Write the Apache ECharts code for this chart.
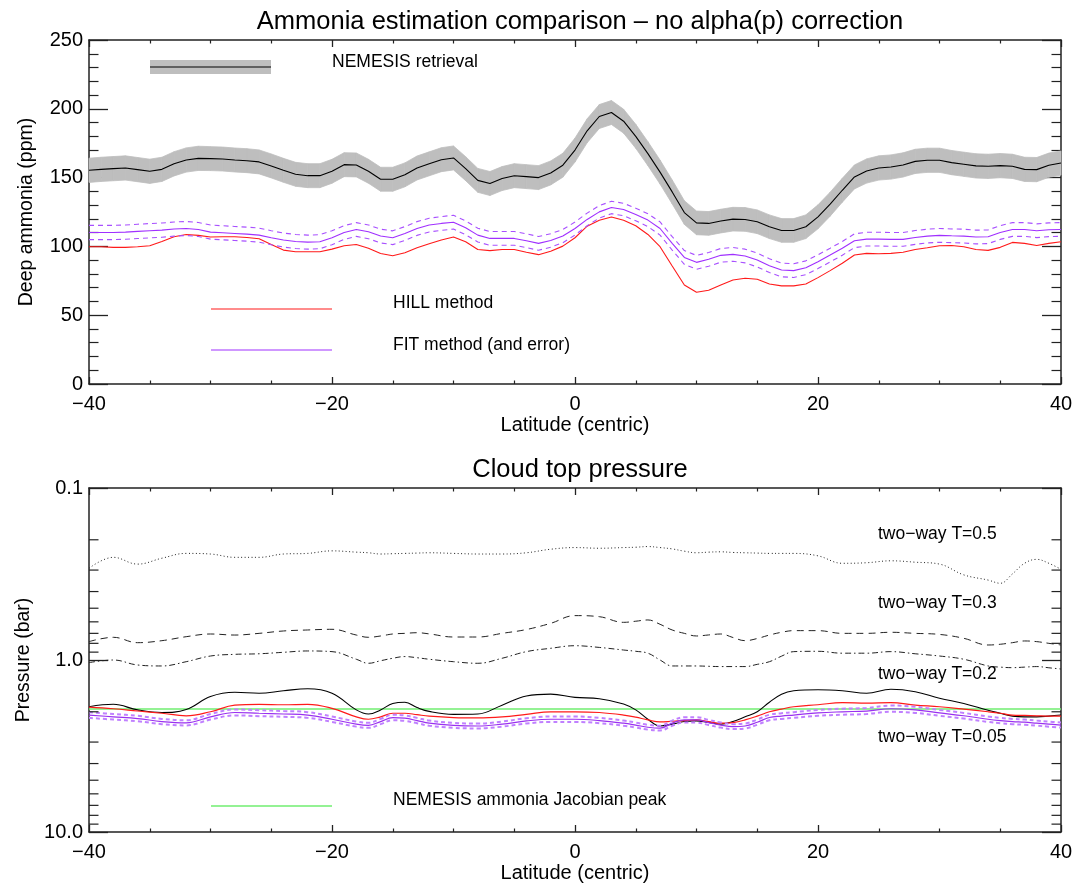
<!DOCTYPE html>
<html>
<head>
<meta charset="utf-8">
<script src="https://cdn.jsdelivr.net/npm/echarts@6/dist/echarts.min.js"></script>
<style>
html,body{margin:0;padding:0;background:#fff;}
#c{width:1085px;height:886px;}
</style>
</head>
<body>
<div id="c"></div>
<script>
// ---------- DATA ----------
const latMin = -40, latMax = 40;
const xTicks = ['−40', '−20', '0', '20', '40'];
// top panel: 1-degree latitude grid
const latT = [];
for (let l = -40; l <= 40; l++) latT.push(l);
const nemesis = [155.3,156,156.5,157,155.8,154.6,156,160,162.8,164,163.8,163.5,162.8,162.3,161.4,158.5,155.3,152.4,151.4,151.4,
  154.6,159.4,159.2,154.6,148.8,148.8,152,157,160,163,164.3,156.5,148,145.7,149.3,151.4,150.7,150,153.4,159,
  170,184,194.4,197.3,191,180,167.4,154,139.6,124.6,117.1,116.7,118.4,119.8,119.6,117.9,114.3,111.6,111.6,114.3,
  121.5,130.7,140.8,150.5,154.8,157,157.7,159.2,161.8,162.6,162.6,160.9,159.7,158.5,158.2,158.7,158.2,156,155.8,159,160.6];
const nemErr = [8.8,8.8,8.8,8.8,8.8,8.8,8.8,8.8,8.8,8.8,8.7,8.7,8.7,8.7,8.7,8.7,8.7,8.7,8.7,8.7,
  8.7,8.7,8.7,8.7,8.7,8.7,8.7,8.7,8.7,8.7,8.7,8.7,8.7,8.7,8.7,8.7,8.7,8.7,8.7,8.7,
  8.7,8.7,8.7,8.7,8.7,8.7,8.7,8.7,8.7,8.6,8.6,8.6,8.6,8.6,8.6,8.6,8.6,8.6,8.6,8.6,
  8.7,8.7,8.7,8.7,8.8,8.8,8.8,8.8,8.8,8.8,8.8,8.8,8.8,8.8,8.8,8.8,8.8,8.8,8.8,8.8,8.8];
const hill = [99.8,99.8,99.3,99.3,99.8,100.5,103.6,107,108.7,108,106.8,107,107,106.5,105.6,101.4,97.3,96.1,96.1,96.1,
  98,100.5,101.4,98.6,94.9,93.2,95.4,99,101.9,104.6,106.8,103.4,97.8,96.9,97.8,97.8,95.7,94,96.5,100.2,
  106.3,114.7,119,121.3,119,115,108.7,99.8,85.7,72,66.7,68.1,72,75.6,76.8,76.1,72.7,71.3,71.3,72.7,
  77.3,82.4,87.7,93.7,94.9,94.7,94.9,95.7,97.8,99,100.5,100.7,99.8,97.8,97.1,99.3,102.9,102.2,100.7,102.2,103.4];
const fit = [110.1,110.1,110.1,110.4,110.9,111.4,111.8,112.6,113,112.3,110.4,109.9,109.4,108.9,108.2,106.3,104.6,103.6,103.1,103.4,
  106.3,110.1,112.3,110.6,107.5,106.3,109.4,113,115.5,116.7,117.6,113.5,108.2,105.8,105.8,105.8,104.1,102.2,104.3,107.5,
  113,119.6,125.1,128.3,126.8,123.2,119.1,113,102.2,92,88.4,90.6,93.5,94.2,93,90.1,86,82.9,82.4,84.5,
  88.9,93.7,98.6,104.1,105.3,105.3,105.1,105.1,106.5,107.5,108,107.7,107.5,106.8,107,110.1,112.3,112.3,111.4,112.1,112.3];
const fitErr = [5.2,5.2,5.2,5.2,5.2,5.2,5.2,5.1,5.1,5.1,5.1,5.1,5.1,5.1,5.1,5.1,5.1,5.1,5.1,5.1,
  5.1,5,5,5,5,5,5,5,5,5,5,5,5,5,5,5,5,5,4.9,4.8,
  4.7,4.6,4.5,4.5,4.5,4.6,4.7,4.8,4.9,5,5,5,5,5,5,5,5,5,5,5,
  5,5,5,5,5,5,5,5,5,5,5,5,5,5,5,5,5,5,5,5,5];

// bottom panel
const latB = [-40,-38,-36,-34,-32,-30,-28,-26,-24,-22,-20,-18,-17,-16,-15,-14,-13,-12,-10,-8,-6,-4,-2,0,2,4,5,6,7,8,9,10,11,12,13,14,15,16,17,18,20,22,24,26,28,30,32,34,35,36,37,38,39,40];
const pT050 = [0.293,0.253,0.277,0.256,0.240,0.242,0.253,0.253,0.242,0.240,0.232,0.236,0.238,0.242,0.241,0.240,0.239,0.238,0.240,0.242,0.242,0.238,0.227,0.222,0.224,0.222,0.221,0.219,0.222,0.226,0.233,0.238,0.236,0.235,0.237,0.238,0.239,0.240,0.240,0.240,0.248,0.274,0.272,0.265,0.270,0.277,0.320,0.343,0.358,0.316,0.274,0.260,0.274,0.297];
const pT030 = [0.782,0.738,0.793,0.772,0.732,0.706,0.716,0.700,0.678,0.669,0.663,0.716,0.738,0.725,0.706,0.700,0.694,0.705,0.735,0.735,0.700,0.665,0.612,0.552,0.560,0.604,0.595,0.585,0.620,0.669,0.700,0.725,0.715,0.706,0.740,0.772,0.750,0.716,0.690,0.675,0.675,0.700,0.700,0.690,0.700,0.710,0.748,0.818,0.810,0.793,0.775,0.782,0.800,0.818];
const pT020 = [1.036,1.000,1.069,1.083,1.023,0.948,0.927,0.920,0.902,0.886,0.894,0.990,1.045,1.010,0.977,0.955,0.970,0.990,1.023,1.045,0.977,0.894,0.855,0.826,0.845,0.875,0.890,0.913,1.000,1.083,1.083,1.083,1.088,1.092,1.092,1.092,1.060,1.023,0.950,0.894,0.890,0.913,0.913,0.894,0.920,0.948,0.990,1.083,1.100,1.108,1.100,1.092,1.110,1.128];
const pT005 = [1.868,1.81,1.95,2.02,1.94,1.63,1.54,1.56,1.51,1.47,1.56,1.95,2.06,1.95,1.79,1.76,1.89,1.99,2.07,2.06,1.83,1.62,1.58,1.65,1.68,1.80,1.95,2.21,2.42,2.36,2.28,2.26,2.31,2.36,2.28,2.14,2.00,1.76,1.58,1.51,1.49,1.51,1.56,1.48,1.53,1.67,1.79,1.96,2.04,2.12,2.14,2.14,2.12,2.09];
const pHill = [1.88,1.92,1.98,2.04,2.11,2.00,1.83,1.81,1.82,1.81,1.91,2.14,2.21,2.14,2.04,2.04,2.08,2.12,2.16,2.17,2.14,2.07,2.00,2.00,2.02,2.09,2.15,2.23,2.29,2.27,2.25,2.23,2.28,2.33,2.31,2.23,2.12,2.00,1.93,1.87,1.82,1.77,1.78,1.77,1.83,1.87,1.93,2.00,2.04,2.09,2.10,2.11,2.12,2.12];
const pFit = [2.09,2.14,2.19,2.28,2.32,2.14,2.02,2.04,2.06,2.09,2.21,2.36,2.40,2.28,2.16,2.18,2.25,2.33,2.40,2.42,2.36,2.26,2.21,2.21,2.25,2.33,2.39,2.46,2.49,2.33,2.23,2.23,2.31,2.39,2.44,2.42,2.30,2.16,2.12,2.09,2.03,2.00,1.98,1.92,1.95,2.03,2.11,2.21,2.25,2.28,2.30,2.33,2.36,2.39];
const pFitErr = [0.08,0.08,0.08,0.08,0.08,0.08,0.08,0.08,0.08,0.08,0.08,0.08,0.08,0.08,0.08,0.08,0.08,0.08,0.08,0.08,0.08,0.08,0.08,0.08,0.08,0.08,0.08,0.08,0.08,0.08,0.08,0.08,0.08,0.08,0.08,0.08,0.08,0.08,0.08,0.08,0.08,0.08,0.08,0.08,0.08,0.08,0.08,0.08,0.08,0.08,0.08,0.08,0.08,0.08];
const jacobianPeak = 1.92;
const minorP = [0.2,0.3,0.4,0.5,0.6,0.7,0.8,0.9,2,3,4,5,6,7,8,9];

// ---------- CHART ----------
const FONT = "'Liberation Sans', Arial, Helvetica, sans-serif";
const AX = '#222';
const LEG = '17.5px ' + FONT;
const chart = echarts.init(document.getElementById('c'), null, {renderer: 'canvas'});

function pairs(xs, ys) { return xs.map((x, i) => [x, ys[i]]); }

function xAxisDef(gi, pos, labels) {
  return {
    type: 'value', gridIndex: gi, position: pos, min: latMin, max: latMax, interval: 20,
    axisLine: {show: true, onZero: false, lineStyle: {color: AX, width: 1.5}},
    axisTick: {show: true, inside: true, length: 7, lineStyle: {color: AX, width: 1.3}},
    minorTick: {show: true, splitNumber: 4, length: 3.5, lineStyle: {color: AX, width: 1.2}},
    splitLine: {show: false},
    axisLabel: labels ? {show: true, margin: 10, fontFamily: FONT, fontSize: 20, color: '#000',
      formatter: v => xTicks[Math.round((v - latMin) / 20)]} : {show: false},
    name: labels ? 'Latitude (centric)' : '', nameLocation: 'middle', nameGap: 31,
    nameTextStyle: {fontFamily: FONT, fontSize: 20, color: '#000'}
  };
}

function lineS(name, xi, yi, data, color, width, type, smooth) {
  return {
    name, type: 'line', xAxisIndex: xi, yAxisIndex: yi, data, showSymbol: false, symbol: 'none',
    smooth: smooth || false, lineStyle: {color, width, type: type || 'solid'}, z: 5, silent: true
  };
}

// band segments: [lat_i, lo_i, hi_i, lat_i+1, lo_i+1, hi_i+1]
const nemBandSeg = [];
for (let i = 0; i < latT.length - 1; i++) {
  nemBandSeg.push([latT[i], nemesis[i] - nemErr[i], nemesis[i] + nemErr[i],
    latT[i + 1], nemesis[i + 1] - nemErr[i + 1], nemesis[i + 1] + nemErr[i + 1]]);
}

const yLine = {show: true, onZero: false, lineStyle: {color: AX, width: 1.5}};
const yTick = {show: true, inside: true, length: 19, lineStyle: {color: AX, width: 1.3}};

const option = {
  animation: false,
  backgroundColor: '#fff',
  title: [
    {text: 'Ammonia estimation comparison – no alpha(p) correction', left: 575, top: 4, textAlign: 'center',
      textStyle: {fontFamily: FONT, fontSize: 25.5, fontWeight: 'normal', color: '#000'}},
    {text: 'Cloud top pressure', left: 575, top: 452, textAlign: 'center',
      textStyle: {fontFamily: FONT, fontSize: 25.5, fontWeight: 'normal', color: '#000'}}
  ],
  grid: [
    {left: 89, right: 24, top: 40, height: 344},
    {left: 89, right: 24, top: 488, height: 344}
  ],
  xAxis: [
    xAxisDef(0, 'bottom', true), xAxisDef(0, 'top', false),
    xAxisDef(1, 'bottom', true), xAxisDef(1, 'top', false)
  ],
  yAxis: [
    {type: 'value', gridIndex: 0, position: 'left', min: 0, max: 250, interval: 50,
      axisLine: yLine, axisTick: yTick,
      minorTick: {show: true, splitNumber: 5, length: 9.5, lineStyle: {color: AX, width: 1.2}},
      splitLine: {show: false},
      axisLabel: {show: true, margin: 6, fontFamily: FONT, fontSize: 20, color: '#000'},
      name: 'Deep ammonia (ppm)', nameLocation: 'middle', nameGap: 52,
      nameTextStyle: {fontFamily: FONT, fontSize: 19.5, color: '#000'}},
    {type: 'value', gridIndex: 0, position: 'right', min: 0, max: 250, interval: 50,
      axisLine: yLine, axisTick: yTick,
      minorTick: {show: true, splitNumber: 5, length: 9.5, lineStyle: {color: AX, width: 1.2}},
      splitLine: {show: false}, axisLabel: {show: false}},
    {type: 'log', logBase: 10, gridIndex: 1, position: 'left', min: 0.1, max: 10, inverse: true,
      axisLine: yLine, axisTick: yTick,
      minorTick: {show: false}, splitLine: {show: false},
      axisLabel: {show: true, margin: 6, fontFamily: FONT, fontSize: 20, color: '#000',
        formatter: v => (v < 0.5 ? '0.1' : (Math.round(v) === 1 ? '1.0' : '10.0'))},
      name: 'Pressure (bar)', nameLocation: 'middle', nameGap: 52,
      nameTextStyle: {fontFamily: FONT, fontSize: 19.5, color: '#000'}},
    {type: 'log', logBase: 10, gridIndex: 1, position: 'right', min: 0.1, max: 10, inverse: true,
      axisLine: yLine, axisTick: yTick,
      minorTick: {show: false}, splitLine: {show: false}, axisLabel: {show: false}}
  ],
  series: [
    // top panel: NEMESIS uncertainty band
    {type: 'custom', xAxisIndex: 0, yAxisIndex: 0, silent: true, z: 2, data: nemBandSeg,
      renderItem: (params, api) => {
        const a = api.coord([api.value(0), api.value(1)]);
        const b = api.coord([api.value(3), api.value(4)]);
        const c = api.coord([api.value(3), api.value(5)]);
        const d = api.coord([api.value(0), api.value(2)]);
        return {type: 'polygon', shape: {points: [a, b, c, d]},
          style: {fill: '#bebebe', stroke: '#bebebe', lineWidth: 0.8}};
      }},
    lineS('NEMESIS retrieval', 0, 0, pairs(latT, nemesis), '#000', 1.1),
    lineS('HILL method', 0, 0, pairs(latT, hill), '#ff1a1a', 1.1),
    lineS('FIT method', 0, 0, pairs(latT, fit), '#a030ff', 1.1),
    lineS('FIT upper', 0, 0, pairs(latT, fit.map((v, i) => v + fitErr[i])), '#a850ff', 1.1, [5, 4]),
    lineS('FIT lower', 0, 0, pairs(latT, fit.map((v, i) => v - fitErr[i])), '#a850ff', 1.1, [5, 4]),
    // bottom panel
    lineS('two-way T=0.5', 2, 2, pairs(latB, pT050), '#222', 1, [1, 2.5], 0.4),
    lineS('two-way T=0.3', 2, 2, pairs(latB, pT030), '#222', 1, [7, 5], 0.4),
    lineS('two-way T=0.2', 2, 2, pairs(latB, pT020), '#222', 1, [6, 3, 1.5, 3], 0.4),
    Object.assign(lineS('two-way T=0.05', 2, 2, pairs(latB, pT005), '#000', 1.1, 'solid', 0.4), {
      markLine: {silent: true, symbol: 'none', label: {show: false}, animation: false,
        lineStyle: {color: '#70ee70', width: 1.6, type: 'solid'}, data: [{yAxis: jacobianPeak}]}
    }),
    lineS('HILL p', 2, 2, pairs(latB, pHill), '#ff1a1a', 1.2, 'solid', 0.4),
    lineS('FIT p upper', 2, 2, pairs(latB, pFit.map((v, i) => v - pFitErr[i])), '#c080ff', 2, [4, 3], 0.4),
    lineS('FIT p lower', 2, 2, pairs(latB, pFit.map((v, i) => v + pFitErr[i])), '#c080ff', 2, [4, 3], 0.4),
    lineS('FIT p', 2, 2, pairs(latB, pFit), '#9a30f0', 1.2, 'solid', 0.4),
    // minor log ticks (both sides) for the pressure axis
    {type: 'custom', xAxisIndex: 2, yAxisIndex: 2, silent: true, clip: false, z: 10,
      data: minorP.map(v => [latMin, v]),
      renderItem: (params, api) => {
        const cs = params.coordSys;
        const y = api.coord([latMin, api.value(1)])[1];
        const st = {stroke: AX, lineWidth: 1.2};
        return {type: 'group', children: [
          {type: 'line', shape: {x1: cs.x, y1: y, x2: cs.x + 9.5, y2: y}, style: st},
          {type: 'line', shape: {x1: cs.x + cs.width, y1: y, x2: cs.x + cs.width - 9.5, y2: y}, style: st}
        ]};
      }}
  ],
  graphic: [
    // top legend
    {type: 'rect', shape: {x: 150, y: 60, width: 121, height: 14}, style: {fill: '#bebebe'}, z: 20},
    {type: 'line', shape: {x1: 150, y1: 67, x2: 271, y2: 67}, style: {stroke: '#000', lineWidth: 1.1}, z: 21},
    {type: 'text', x: 332, y: 62, style: {text: 'NEMESIS retrieval', font: LEG, fill: '#000', verticalAlign: 'middle'}, z: 21},
    {type: 'line', shape: {x1: 211, y1: 309, x2: 332, y2: 309}, style: {stroke: '#ff1a1a', lineWidth: 1.1}, z: 21},
    {type: 'text', x: 393, y: 303, style: {text: 'HILL method', font: LEG, fill: '#000', verticalAlign: 'middle'}, z: 21},
    {type: 'line', shape: {x1: 211, y1: 350, x2: 332, y2: 350}, style: {stroke: '#a030ff', lineWidth: 1.1}, z: 21},
    {type: 'text', x: 393, y: 345, style: {text: 'FIT method (and error)', font: LEG, fill: '#000', verticalAlign: 'middle'}, z: 21},
    // bottom legend
    {type: 'line', shape: {x1: 211, y1: 806, x2: 332, y2: 806}, style: {stroke: '#70ee70', lineWidth: 1.6}, z: 21},
    {type: 'text', x: 393, y: 800, style: {text: 'NEMESIS ammonia Jacobian peak', font: LEG, fill: '#000', verticalAlign: 'middle'}, z: 21},
    {type: 'text', x: 878, y: 534, style: {text: 'two−way T=0.5', font: LEG, fill: '#000', verticalAlign: 'middle'}, z: 21},
    {type: 'text', x: 878, y: 603, style: {text: 'two−way T=0.3', font: LEG, fill: '#000', verticalAlign: 'middle'}, z: 21},
    {type: 'text', x: 878, y: 674, style: {text: 'two−way T=0.2', font: LEG, fill: '#000', verticalAlign: 'middle'}, z: 21},
    {type: 'text', x: 878, y: 737, style: {text: 'two−way T=0.05', font: LEG, fill: '#000', verticalAlign: 'middle'}, z: 21}
  ]
};
chart.setOption(option);
</script>
</body>
</html>
